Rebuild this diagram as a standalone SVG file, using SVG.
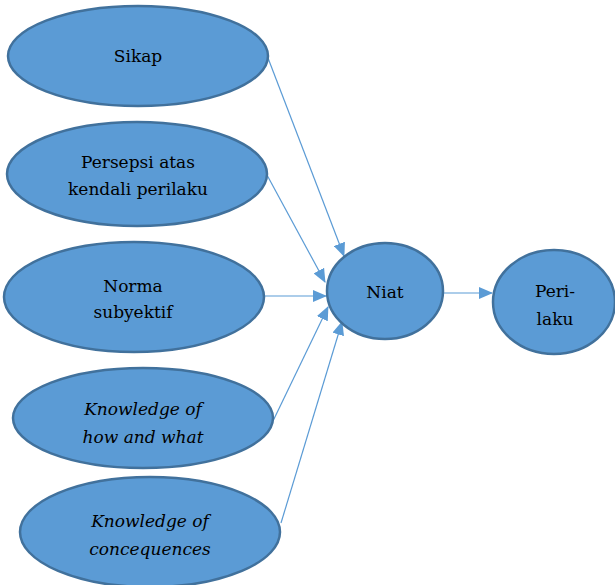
<svg xmlns="http://www.w3.org/2000/svg" width="615" height="585" viewBox="0 0 615 585">
<style>
.n ellipse{fill:#5B9BD5;stroke:#41719C;stroke-width:2.5}
.n text{font-family:"DejaVu Serif","Liberation Serif",serif;font-size:17px;fill:#000;text-anchor:middle}
.i{font-style:italic}
.c line{stroke:#5B9BD5;stroke-width:1.2;marker-end:url(#a)}
</style>
<defs>
<marker id="a" markerWidth="14" markerHeight="12" refX="13" refY="6" orient="auto" markerUnits="userSpaceOnUse">
<path d="M0,0 L14,6 L0,12 Z" fill="#5B9BD5"/>
</marker>
</defs>
<rect width="615" height="585" fill="#fff"/>
<g class="c" id="connectors">
<line x1="268" y1="58" x2="344" y2="256"/>
<line x1="267" y1="175" x2="325" y2="282"/>
<line x1="264" y1="296" x2="326" y2="296"/>
<line x1="273" y1="421" x2="328" y2="307"/>
<line x1="281" y1="523" x2="342" y2="322"/>
<line x1="444" y1="293" x2="492" y2="293"/>
</g>
<g class="n" id="sikap"><ellipse cx="138" cy="56" rx="130" ry="50"/><text x="138" y="62">Sikap</text></g>
<g class="n" id="persepsi"><ellipse cx="137" cy="174" rx="130" ry="52"/><text x="138" y="168">Persepsi atas</text><text x="138" y="195">kendali perilaku</text></g>
<g class="n" id="norma"><ellipse cx="134" cy="297" rx="130" ry="55"/><text x="133" y="292">Norma</text><text x="133" y="318">subyektif</text></g>
<g class="n" id="howwhat"><ellipse cx="143" cy="418" rx="130" ry="50"/><text class="i" x="143" y="415">Knowledge of</text><text class="i" x="143" y="443">how and what</text></g>
<g class="n" id="conseq"><ellipse cx="150" cy="532" rx="130" ry="55"/><text class="i" x="150" y="527">Knowledge of</text><text class="i" x="150" y="555">concequences</text></g>
<g class="n" id="niat"><ellipse cx="385" cy="291" rx="58" ry="48"/><text x="385" y="298">Niat</text></g>
<g class="n" id="perilaku"><ellipse cx="554" cy="302" rx="61" ry="52"/><text x="555" y="297">Peri-</text><text x="555" y="325">laku</text></g>
</svg>
